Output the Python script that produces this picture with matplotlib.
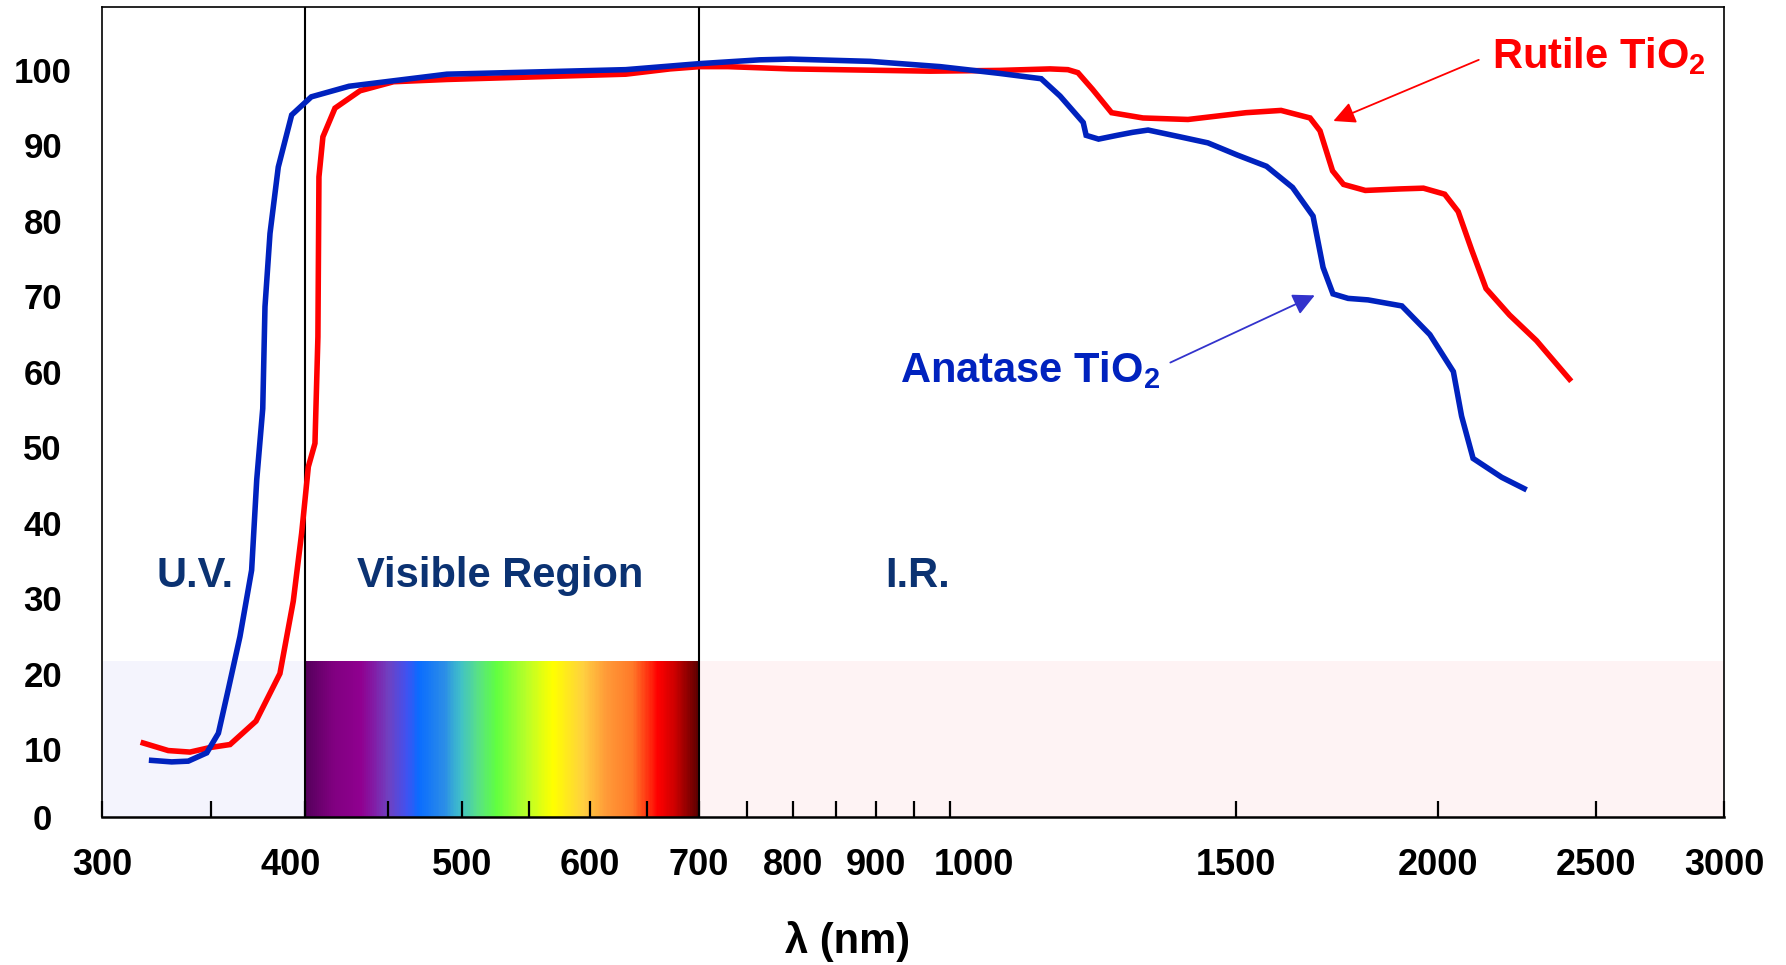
import numpy as np
import matplotlib
matplotlib.use('Agg')
import matplotlib.pyplot as plt
from matplotlib.colors import LinearSegmentedColormap
from matplotlib.ticker import FixedLocator, NullFormatter
from matplotlib.transforms import ScaledTranslation

# ---------------- data ----------------
anatase_nm = [321.9, 331.2, 339.1, 348.1, 353.9, 358.9, 364.9, 371.0, 373.7, 376.9,
              378.1, 380.8, 385.3, 392.7, 403.8, 426.0, 489.5, 631, 701, 763,
              797, 892.6, 986, 1073, 1138, 1169, 1208, 1213, 1234.6, 1267.5,
              1296, 1324.5, 1386, 1442, 1503, 1567, 1626, 1674, 1698, 1722,
              1759.5, 1810, 1899, 1976, 2043, 2067, 2101, 2188, 2259]
anatase_T = [8.5, 8.3, 8.4, 9.5, 12.1, 17.9, 24.9, 33.7, 45.7, 55.1,
             68.6, 78.3, 87.1, 94.0, 96.4, 97.8, 99.4, 100.0, 100.8, 101.3,
             101.4, 101.1, 100.4, 99.5, 98.8, 96.5, 93.0, 91.3, 90.8, 91.3,
             91.7, 92.0, 91.1, 90.3, 88.7, 87.2, 84.4, 80.6, 73.8, 70.3,
             69.7, 69.5, 68.7, 64.9, 60.0, 54.1, 48.5, 46.0, 44.5]

rutile_nm = [318.1, 329.6, 339.9, 349.7, 359.8, 373.3, 386.2, 393.6, 398.3, 402.1,
             405.9, 407.6, 408.2, 410.5, 417.6, 432.7, 453.8, 489.5, 631, 672,
             701, 729.6, 797, 972, 1073, 1152.6, 1182, 1199, 1224, 1257.6,
             1315, 1401.7, 1522, 1599.7, 1667, 1690.6, 1721, 1748, 1803, 1894,
             1958, 2018, 2057, 2097, 2140, 2212.6, 2299, 2409]
rutile_T = [10.8, 9.8, 9.6, 10.2, 10.6, 13.7, 20.0, 29.6, 38.6, 47.4,
            50.5, 64.6, 85.8, 91.1, 94.9, 97.2, 98.4, 98.7, 99.4, 100.1,
            100.4, 100.4, 100.1, 99.8, 99.9, 100.1, 100.0, 99.6, 97.4, 94.3,
            93.6, 93.4, 94.3, 94.6, 93.6, 91.9, 86.6, 84.8, 84.0, 84.2,
            84.3, 83.5, 81.2, 76.1, 71.0, 67.5, 64.1, 59.0]

x_tick_values = [300, 400, 500, 600, 700, 800, 900, 1000, 1500, 2000, 2500, 3000]
x_minor_values = [350, 450, 550, 650, 750, 850, 950]
y_tick_labels = ['0', '10', '20', '30', '40', '50', '60', '70', '80', '90', '100']
y_tick_values = [1.0, 10, 20, 30, 40, 50, 60, 70, 80, 90, 100]

region_uv = (300, 400)
region_vis = (400, 700)
region_ir = (700, 3000)
band_top = 21.6

spectrum_nm = [400, 416, 433, 450, 462, 470, 487, 499, 511, 525, 548, 569, 594, 614, 638, 661, 678, 700]
spectrum_col = ['#56005C', '#800080', '#900090', '#7040C0', '#4052F0', '#0A6CFF', '#2A8CE8',
                '#40C0C8', '#58E088', '#60FF40', '#B8FF28', '#FFFF00', '#FFD040', '#FF9A38',
                '#FF7828', '#FF0000', '#C80000', '#5A0000']

# ---------------- style ----------------
plt.rcParams['font.family'] = ['Liberation Sans', 'DejaVu Sans']
plt.rcParams['font.weight'] = 'bold'
plt.rcParams['mathtext.fontset'] = 'custom'
plt.rcParams['mathtext.rm'] = 'Liberation Sans:bold'
plt.rcParams['mathtext.it'] = 'Liberation Sans:bold'
plt.rcParams['mathtext.bf'] = 'Liberation Sans:bold'
plt.rcParams['mathtext.default'] = 'rm'

fig = plt.figure(figsize=(17.86, 9.65), dpi=100)
ax = fig.add_axes([102 / 1786, 148 / 965, 1622 / 1786, 810 / 965])
ax.set_xscale('log')
ax.set_xlim(300, 3000)
ax.set_ylim(1.0, 108.3)

# background bands
ax.fill_between(region_uv, 1.0, band_top, color='#F4F4FD', lw=0, zorder=0)
ax.fill_between(region_ir, 1.0, band_top, color='#FEF3F4', lw=0, zorder=0)

stops = [(n - 400) / 300 for n in spectrum_nm]
cmap = LinearSegmentedColormap.from_list('spec', list(zip(stops, spectrum_col)))
edges = np.geomspace(region_vis[0], region_vis[1], 601)
centers = np.sqrt(edges[:-1] * edges[1:])
ax.pcolormesh(edges, [1.0, band_top], centers[None, :], cmap=cmap, vmin=400, vmax=700,
              shading='flat', zorder=0.5)

ax.axvline(400, color='black', lw=1.5, zorder=2)
ax.axvline(700, color='black', lw=1.5, zorder=2)

ax.plot(rutile_nm, rutile_T, color='#FF0000', lw=4.0, zorder=3, solid_joinstyle='miter')
ax.plot(anatase_nm, anatase_T, color='#0022BE', lw=4.0, zorder=4, solid_joinstyle='miter')

# ticks
ax.xaxis.set_major_locator(FixedLocator(x_tick_values))
ax.set_xticklabels([str(v) for v in x_tick_values])
ax.xaxis.set_minor_locator(FixedLocator(x_minor_values))
ax.xaxis.set_minor_formatter(NullFormatter())
ax.tick_params(axis='x', which='both', direction='in', length=11.5, width=1.6,
               top=False, pad=22, labelsize=26)
label_shift = {'400': -14, '1000': 24}
for lab in ax.get_xticklabels():
    dx = label_shift.get(lab.get_text(), 0)
    if dx:
        lab.set_transform(lab.get_transform() + ScaledTranslation(dx / 100, 0, fig.dpi_scale_trans))

ax.set_yticks(y_tick_values)
ax.set_yticklabels(y_tick_labels)
ax.tick_params(axis='y', length=0, pad=42.7, labelsize=25)
for lab in ax.get_yticklabels():
    lab.set_horizontalalignment('center')

for s in ['left', 'right', 'top']:
    ax.spines[s].set_linewidth(1.2)
ax.spines['bottom'].set_linewidth(1.8)

# region labels
navy = '#0B3272'
ax.text(0.0573, 0.284, 'U.V.', transform=ax.transAxes, ha='center', va='baseline',
        fontsize=30, color=navy, zorder=6)
ax.text(0.2454, 0.284, 'Visible Region', transform=ax.transAxes, ha='center', va='baseline',
        fontsize=30, color=navy, zorder=6)
ax.text(0.503, 0.284, 'I.R.', transform=ax.transAxes, ha='center', va='baseline',
        fontsize=30, color=navy, zorder=6)

# annotations
ax.text(0.857, 0.9243, 'Rutile TiO$_2$', transform=ax.transAxes, ha='left', va='baseline',
        fontsize=30, color='#FF0000', zorder=6)
ax.annotate('', xy=(1723, 93.2), xytext=(2118, 101.3),
            arrowprops=dict(arrowstyle='-|>,head_length=0.6,head_width=0.3', color='#FF0000',
                            lw=1.3, mutation_scale=22, shrinkA=0, shrinkB=0), zorder=6)
ax.text(0.492, 0.5374, 'Anatase TiO$_2$', transform=ax.transAxes, ha='left', va='baseline',
        fontsize=30, color='#0022BE', zorder=6)
ax.annotate('', xy=(1678, 70.1), xytext=(1367, 61.2),
            arrowprops=dict(arrowstyle='-|>,head_length=0.6,head_width=0.3', color='#3333CC',
                            lw=1.3, mutation_scale=22, shrinkA=0, shrinkB=0), zorder=6)

fig.text(848 / 1786, (965 - 942) / 965, 'λ (nm)', ha='center', va='center', fontsize=30,
         fontweight='bold')

fig.savefig('out.png', dpi=100)
